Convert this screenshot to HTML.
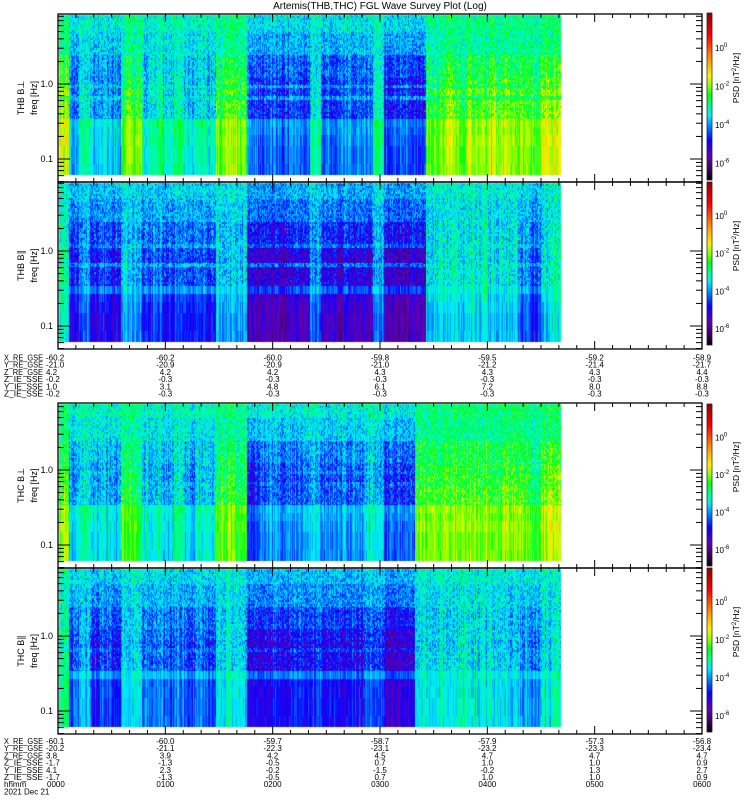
<!DOCTYPE html>
<html><head><meta charset="utf-8"><style>
html,body{margin:0;padding:0;background:#fff;}
#wrap{position:relative;width:750px;height:800px;overflow:hidden;}
canvas,svg{position:absolute;left:0;top:0;}
text{font-family:"Liberation Sans",sans-serif;fill:#000;}
</style></head><body>
<div id="wrap">
<canvas id="cv" width="750" height="800"></canvas>
<svg id="sv" width="750" height="800">
<text x="380" y="9" font-size="10" text-anchor="middle">Artemis(THB,THC) FGL Wave Survey Plot (Log)</text>
<g id="axes"></g>
<g id="ann" font-size="8"></g>
</svg>
</div>
<script>
// ---- data ----
const bandEdges = [0.059,0.086,0.15,0.21,0.27,0.35,0.62,0.7,0.9,1.0,1.1,1.25,2.5,5,8.7];
const p1Base = [-3.1,-3.1,-3.0,-3.0,-2.9,-3.4,-3.3,-3.4,-3.3,-3.5,-3.5,-3.5,-3.4,-3.2];
const p1Weight = [1.0,1.0,1.0,0.9,0.9,1.0,0.5,1.0,0.5,0.9,0.9,0.7,0.35,0.25];
const p2Base = [-4.3,-4.3,-4.2,-4.1,-3.7,-4.0,-3.6,-4.1,-4.0,-4.0,-3.7,-3.9,-3.7,-3.5];
const p2Weight = [1.0,1.0,1.0,1.0,0.6,1.0,0.5,1.0,1.0,1.0,0.5,0.7,0.4,0.3];
const p3Base = [-3.1,-3.1,-3.0,-3.0,-2.9,-3.4,-3.4,-3.5,-3.4,-3.5,-3.5,-3.4,-3.3,-3.1];
const p3Weight = [1.0,1.0,1.0,0.9,0.9,1.0,0.8,1.0,0.8,0.9,0.9,0.7,0.35,0.25];
const p4Base = [-3.8,-3.8,-3.8,-3.8,-3.5,-3.9,-3.8,-4.0,-3.8,-3.9,-3.9,-3.8,-3.6,-3.4];
const p4Weight = [1.0,1.0,1.0,1.0,0.6,1.0,0.7,1.0,0.9,1.0,0.9,0.7,0.4,0.3];
const p1Activity = [1.5,-0.6,0.0,-0.6,-0.4,-0.6,1.0,0.9,-0.1,0.2,-0.2,0.1,-0.3,0.1,-0.2,1.0,1.1,0.9,-1.0,-1.2,-1.1,-1.3,-1.0,-1.2,0.2,-1.0,-1.1,-0.9,-1.0,-1.0,0.3,-1.3,-1.3,-1.2,-1.3,1.0,1.1,1.2,1.0,1.3,1.1,1.2,1.3,1.1,1.0,0.9,1.4,1.5];
const p2Activity = [1.2,-0.7,0.2,-0.8,-0.6,-0.8,0.5,0.3,-0.4,-0.2,-0.5,-0.3,-0.6,-0.4,-0.6,0.6,0.5,0.4,-1.2,-1.3,-1.2,-1.3,-1.1,-1.3,0.0,-1.1,-1.2,-1.0,-1.2,-1.1,0.0,-1.4,-1.4,-1.3,-1.4,0.6,0.7,0.7,0.6,0.8,0.7,0.6,0.7,0.5,-0.2,-0.4,0.6,1.0];
const p3Activity = [1.3,-0.4,0.1,-0.5,-0.3,-0.5,0.9,0.8,-0.3,0.0,-0.4,0.0,-0.5,-0.2,-0.3,1.0,1.0,0.8,-1.5,-0.9,-0.8,-1.0,-0.9,-0.8,-0.6,-0.9,-1.0,-0.8,-0.9,-0.4,-0.3,-1.3,-1.2,-1.1,1.0,1.1,1.2,1.1,1.2,1.1,1.2,1.0,1.1,1.0,0.9,0.8,1.3,1.4];
const p4Activity = [1.0,-0.6,0.1,-0.8,-0.6,-0.7,0.4,0.3,-0.4,-0.3,-0.5,-0.3,-0.6,-0.4,-0.5,0.5,0.5,0.3,-1.4,-1.2,-1.0,-1.1,-1.0,-0.9,-0.8,-1.0,-1.1,-1.0,-1.0,-0.6,-0.5,-1.3,-1.3,-1.2,0.4,0.5,0.6,0.5,0.6,0.5,0.4,0.5,0.5,0.3,0.0,-0.3,0.4,0.8];
const dataEndHours = 4.69;
const hourTicks = ["0000","0100","0200","0300","0400","0500","0600"];
const freqMajor = [0.1, 1.0];
const freqMajorLabels = ["0.1","1.0"];
const cbarTicks = [0,-2,-4,-6];
const cbarTickLabels = ["0","-2","-4","-6"];
const annRowLabels = ["X_RE_GSE","Y_RE_GSE","Z_RE_GSE","Z_IE_SSE","Y_IE_SSE","Z_IE_SSE"];
const annTop = [
 ["-60.2","-60.2","-60.0","-59.8","-59.5","-59.2","-58.9"],
 ["-21.0","-20.9","-20.9","-21.0","-21.2","-21.4","-21.7"],
 ["4.2","4.2","4.2","4.3","4.3","4.3","4.4"],
 ["-0.2","-0.3","-0.3","-0.3","-0.3","-0.3","-0.3"],
 ["1.0","3.1","4.8","6.1","7.2","8.0","8.8"],
 ["-0.2","-0.3","-0.3","-0.3","-0.3","-0.3","-0.3"]];
const annBottom = [
 ["-60.1","-60.0","-59.7","-58.7","-57.9","-57.3","-56.8"],
 ["-20.2","-21.1","-22.3","-23.1","-23.2","-23.3","-23.4"],
 ["3.8","3.9","4.2","4.5","4.7","4.7","4.7"],
 ["-1.7","-1.3","-0.5","0.7","1.0","1.0","0.9"],
 ["4.1","2.3","-0.2","-1.5","-0.2","1.3","2.7"],
 ["-1.7","-1.3","-0.5","0.7","1.0","1.0","0.9"]];

// ---- geometry ----
const X0 = 58, X1 = 702, HOURPX = (X1 - X0) / 6;
const panels = [
 {T:14,B:182,base:p1Base,w:p1Weight,act:p1Activity,name:"THB B\u22A5",key:"thb-bperp",cb:[13,180]},
 {T:182,B:349,base:p2Base,w:p2Weight,act:p2Activity,name:"THB B\u2225",key:"thb-bpar",cb:[182,345]},
 {T:403,B:568,base:p3Base,w:p3Weight,act:p3Activity,name:"THC B\u22A5",key:"thc-bperp",cb:[404,566]},
 {T:568,B:734,base:p4Base,w:p4Weight,act:p4Activity,name:"THC B\u2225",key:"thc-bpar",cb:[568,732]}];
const VMIN = -6.85, VMAX = 1.8;
function xOfHour(h){return X0 + h*HOURPX;}
function yOfFreq(p,f){return (p.B-23) - (Math.log10(f)+1)*75;}
function freqOfY(p,y){return Math.pow(10,((p.B-23)-y)/75 - 1);}
const stops = [[0,0,0,0],[0.07,60,0,90],[0.14,100,0,180],[0.24,10,0,255],[0.31,0,110,255],[0.39,0,235,255],[0.45,0,255,140],[0.51,0,255,20],[0.57,150,255,0],[0.63,255,240,0],[0.75,255,130,0],[0.87,255,0,0],[1,150,0,0]];
function cmap(v){
  let t=(v-VMIN)/(VMAX-VMIN); t=Math.max(0,Math.min(1,t));
  for(let i=1;i<stops.length;i++){ if(t<=stops[i][0]){const a=stops[i-1],b=stops[i];const u=(t-a[0])/(b[0]-a[0]);
    return [a[1]+(b[1]-a[1])*u,a[2]+(b[2]-a[2])*u,a[3]+(b[3]-a[3])*u];}}
  return [150,0,0];
}
function hash(a,b,c){let h=(a*374761393+b*668265263+c*2147483647)|0;h=(h^(h>>>13))*1274126177|0;h=h^(h>>>16);return ((h>>>0)%10000)/5000-1;}
function bandOf(f){for(let i=0;i<bandEdges.length-1;i++){if(f<bandEdges[i+1])return i;}return bandEdges.length-2;}

const cv=document.getElementById('cv'), ctx=cv.getContext('2d');
const img=ctx.createImageData(750,800);
panels.forEach((p,pi)=>{
  const xEnd = Math.round(xOfHour(dataEndHours));
  const yTop=p.T+1, yBot=p.B-7;
  const nSeg=p.act.length, segH=dataEndHours/nSeg;
  for(let y=yTop;y<yBot;y++){
    const f=freqOfY(p,y); const b=bandOf(f);
    const coarse = f<0.35;
    const cellRow = coarse ? b : Math.floor(y/2);
    const sp = coarse ? 0.25 : (f>2.5?0.6:0.6);
    const colAmp = f>2.5 ? 0.25 : 0.45;
    for(let x=X0+1;x<xEnd;x++){
      const h=(x-X0)/HOURPX; const s=Math.min(nSeg-1,Math.floor(h/segH));
      let v=p.base[b]+p.w[b]*p.act[s];
      v+=colAmp*hash(x,pi,7)+sp*hash(x,cellRow,pi+11);
      const c=cmap(v); const k=(y*750+x)*4;
      img.data[k]=c[0];img.data[k+1]=c[1];img.data[k+2]=c[2];img.data[k+3]=255;
    }
  }
  for(let y=p.cb[0];y<p.cb[1];y++){
    const v=VMAX-(y-p.cb[0])/(p.cb[1]-p.cb[0])*(VMAX-VMIN); const c=cmap(v);
    for(let x=707;x<712;x++){const k=(y*750+x)*4;img.data[k]=c[0];img.data[k+1]=c[1];img.data[k+2]=c[2];img.data[k+3]=255;}
  }
});
ctx.putImageData(img,0,0);

// ---- axes ----
const NS="http://www.w3.org/2000/svg";
const axes=document.getElementById('axes');
function el(tag,attrs,parent){const e=document.createElementNS(NS,tag);for(const k in attrs)e.setAttribute(k,attrs[k]);(parent||axes).appendChild(e);return e;}
panels.forEach((p,pi)=>{
  const g=el('g',{});
  
  
  const r=el('rect',{x:X0,y:p.T,width:X1-X0,height:p.B-p.T,fill:'none',stroke:'#000','stroke-width':1.3},g);
  
  
  for(let m=0;m<=360;m+=10){
    const x=xOfHour(m/60), L=(m%60===0)?8:4;
    el('line',{x1:x,y1:p.B,x2:x,y2:p.B-L,stroke:'#000','stroke-width':1},g);
    el('line',{x1:x,y1:p.T,x2:x,y2:p.T+L,stroke:'#000','stroke-width':1},g);
  }
  for(let d=-2;d<=0;d++){for(let k=1;k<=9;k++){
    const f=k*Math.pow(10,d); const y=yOfFreq(p,f);
    if(y<p.T||y>p.B)continue; const L=(k===1)?12:6;
    el('line',{x1:X0,y1:y,x2:X0+L,y2:y,stroke:'#000','stroke-width':1},g);
    el('line',{x1:X1,y1:y,x2:X1-L,y2:y,stroke:'#000','stroke-width':1},g);
  }}
  freqMajor.forEach((f,i)=>{
    const t=el('text',{x:53,y:yOfFreq(p,f)+3,'font-size':9,'text-anchor':'end'},g);
    
    
    t.textContent=freqMajorLabels[i];
  });
  const mid=(p.T+p.B)/2;
  const t1=el('text',{x:0,y:0,'font-size':9,'text-anchor':'middle',transform:`translate(24,${mid}) rotate(-90)`},g);
  
  
  t1.textContent=p.name;
  const t2=el('text',{x:0,y:0,'font-size':9,'text-anchor':'middle',transform:`translate(37,${mid}) rotate(-90)`},g);
  
  
  t2.textContent='freq [Hz]';
  const cr=el('rect',{x:707,y:p.cb[0],width:5,height:p.cb[1]-p.cb[0],fill:'none',stroke:'#000','stroke-width':0.6},g);
  
  
  const cbH=p.cb[1]-p.cb[0];
  cbarTicks.forEach((v,i)=>{
    const y=p.cb[0]+(VMAX-v)/(VMAX-VMIN)*cbH;
    const t=el('text',{x:715,y:y+3,'font-size':8},g);
    
    
    t.appendChild(document.createTextNode('10'));
    const s=el('tspan',{'font-size':6,dy:-4},t); s.textContent=cbarTickLabels[i];
  });
  const ct=el('text',{x:0,y:0,'font-size':8.5,'text-anchor':'middle',transform:`translate(739,${p.T+64}) rotate(-90)`},g);
  
  
  ct.appendChild(document.createTextNode('PSD [nT'));
  const sup=el('tspan',{'font-size':6,dy:-3},ct); sup.textContent='2';
  const rest=el('tspan',{dy:3},ct); rest.textContent='/Hz]';
});

// ---- annotations ----
const ann=document.getElementById('ann');
function block(rows,y0,extra){
  annRowLabels.forEach((lab,i)=>{
    const y=y0+i*7.2;
    const t=el('text',{x:4,y:y,textLength:39,lengthAdjust:'spacingAndGlyphs'},ann);
    
    
    t.textContent=lab;
    rows[i].forEach((v,j)=>{
      const tv=el('text',j===0?{x:46,y:y}:{x:xOfHour(j),y:y,'text-anchor':'middle'},ann);
      
      
      tv.textContent=v;
    });
  });
  if(extra){
    const y=y0+6*7.2;
    const t=el('text',{x:4,y:y},ann);
    
    
    t.textContent='hhmm';
    hourTicks.forEach((v,j)=>{
      const tv=el('text',j===0?{x:47,y:y}:{x:xOfHour(j),y:y,'text-anchor':'middle'},ann);
      
      
      tv.textContent=v;
    });
    const d=el('text',{x:4,y:y+7.2},ann);
    
    
    d.textContent='2021 Dec 21';
  }
}
block(annTop,360.5,false);
block(annBottom,744,true);
</script>
</body></html>
